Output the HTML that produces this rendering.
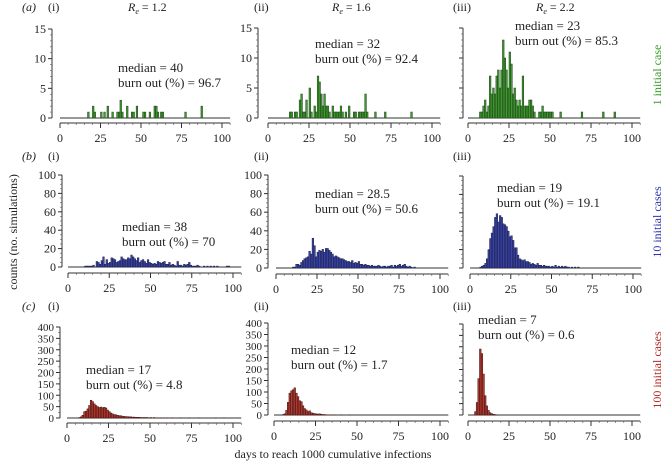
<!DOCTYPE html>
<html><head><meta charset="utf-8"><style>
body{margin:0;background:#fff;}
svg{display:block;font-family:"Liberation Serif","Times New Roman",serif;}
</style></head><body>
<svg id="chart" width="667" height="463" viewBox="0 0 667 463" font-family="Liberation Serif, serif">
<g font-size="12" fill="#222">
<text x="22" y="11" font-style="italic">(a)</text>
<text x="48" y="11">(i)</text>
<text x="128" y="11"><tspan font-style="italic">R</tspan><tspan font-size="8" dy="3" font-style="italic">e</tspan><tspan dy="-3"> = 1.2</tspan></text>
<text x="254" y="11">(ii)</text>
<text x="332" y="11"><tspan font-style="italic">R</tspan><tspan font-size="8" dy="3" font-style="italic">e</tspan><tspan dy="-3"> = 1.6</tspan></text>
<text x="453" y="11">(iii)</text>
<text x="536" y="11"><tspan font-style="italic">R</tspan><tspan font-size="8" dy="3" font-style="italic">e</tspan><tspan dy="-3"> = 2.2</tspan></text>
<text x="22" y="160" font-style="italic">(b)</text>
<text x="48" y="160">(i)</text>
<text x="254" y="160">(ii)</text>
<text x="453" y="160">(iii)</text>
<text x="22" y="310" font-style="italic">(c)</text>
<text x="48" y="310">(i)</text>
<text x="254" y="310">(ii)</text>
<text x="453" y="310">(iii)</text>
</g>
<text x="0" y="0" transform="translate(17,232) rotate(-90)" text-anchor="middle" font-size="12" fill="#222">counts (no. simulations)</text>
<text x="333" y="458" text-anchor="middle" font-size="12" fill="#222">days to reach 1000 cumulative infections</text>
<text transform="translate(661,75) rotate(-90)" text-anchor="middle" font-size="12" fill="#3a9a2a">1 initial case</text>
<text transform="translate(661,222) rotate(-90)" text-anchor="middle" font-size="12" fill="#2e32b0">10 initial cases</text>
<text transform="translate(661,370) rotate(-90)" text-anchor="middle" font-size="12" fill="#b02a22">100 initial cases</text>
</svg>
<script>
const aiStart = 17;
const aiCounts = [1,0,0,2,1,0,0,0,1,0,1,0,2,0,0,1,0,0,1,1,3,1,0,0,2,0,0,1,1,0,2,0,0,0,1,1,0,0,1,0,0,2,2,1,0,1,1,0,0,0,0,0,0,0,0,0,0,0,0,0,1,0,0,0,0,0,0,0,0,0,2];
const aiiStart = 13;
const aiiCounts = [1,1,0,1,1,0,3,4,1,1,3,0,5,1,0,2,1,7,6,4,2,4,2,2,1,0,2,1,1,1,1,2,1,0,1,0,2,0,0,1,1,0,1,1,1,1,4,1,0,0,0,0,1,0,0,0,0,0,1,0,0,0,0,0,0,0,0,0,0,0,0,0,0,0,1];
const aiiiStart = 7;
const aiiiCounts = [1,1,2,3,1,2,7,4,5,4,7,8,5,8,13,10,8,5,11,9,4,5,3,2,3,2,7,2,2,2,3,3,2,1,0,0,1,1,2,1,1,1,1,1,1,0,0,0,0,1,0,0,0,0,0,0,0,0,0,0,0,0,1,0,0,0,0,0,0,0,0,0,0,0,0,1,0,0,0,0,0,0,1];
const biStart = 10;
const biCounts = [1,1,1,1,1,2,0,6,5,3,7,11,3,8,4,5,10,9,8,5,6,7,11,9,8,8,10,9,13,11,9,7,10,5,7,8,6,4,8,5,4,3,4,3,6,5,4,5,6,3,3,5,2,3,2,1,6,2,2,1,3,2,3,5,2,1,1,1,2,1,0,0,1,0,1,0,1,0,1,0,1,0,0,0,0,0,1,1];
const biiStart = 10;
const biiCounts = [1,1,4,4,3,6,8,10,11,12,18,15,32,24,12,17,19,18,20,17,21,21,19,17,15,12,13,12,11,10,10,9,8,7,7,6,8,5,6,5,7,4,4,3,4,3,3,2,3,2,2,2,3,2,1,2,2,1,2,2,3,1,3,2,3,4,2,3,4,2,1,2,1,0,1];
const biiiStart = 6;
const biiiCounts = [1,2,3,5,10,20,32,38,45,55,59,50,57,55,48,47,45,40,34,35,30,22,22,14,10,9,8,9,7,7,6,4,5,4,3,5,3,3,2,3,2,2,2,1,2,1,3,1,2,1,2,1,2,1,1,0,1,0,1,0,1];
const ciStart = 7;
const ciCounts = [2,5,12,28,30,40,55,78,72,62,55,50,46,48,45,47,44,35,28,22,18,15,14,12,10,10,8,7,6,6,5,5,4,4,3,3,3,2,2,2,2,2,0,2,0,2,0,1,0,1,0,1,0,1,0,0,1,0,0,0,0,1,0,0,0,0,1,0,0,0,0,0,1,0,0,0,0,0,0,0,0,0,1,0,0,0,0,1];
const ciiStart = 5;
const ciiCounts = [2,5,20,55,95,105,110,118,95,80,62,58,40,28,22,15,18,10,8,6,5,4,5,3,2,2,1,1,0,1,0,1,0,0,0,1,0,0,0,0,1];
const ciiiStart = 4;
const ciiiCounts = [15,55,160,290,270,180,85,40,20,10,6,3,2,1,1];
const yTicksA = [0,5,10,15];
const yTicksB = [0,20,40,60,80,100];
const yTicksC = [0,50,100,150,200,250,300,350,400];
const xTicks = [0,25,50,75,100];
const medians = ["40","32","23","38","28.5","19","17","12","7"];
const burnouts = ["96.7","92.4","85.3","70","50.6","19.1","4.8","1.7","0.6"];

const NS = "http://www.w3.org/2000/svg";
const svg = document.getElementById("chart");
function mk(tag, attrs, parent){const e=document.createElementNS(NS,tag);for(const k in attrs)e.setAttribute(k,attrs[k]);(parent||svg).appendChild(e);return e;}

const fills = ["#3f9a30","#3a45a8","#b33a30"];
const strokes = ["#1c3d16","#1a1d45","#3d1210"];
const panels = [
 {s:aiStart,c:aiCounts,ya:52,y0:118,yt:29,ym:15,ticks:yTicksA,minor:1,x0:60,x1:222,xa:123,lab:true,row:0,mx:118,my:72},
 {s:aiiStart,c:aiiCounts,ya:258,y0:118,yt:28,ym:15,ticks:yTicksA,minor:1,x0:268,x1:432,xa:123,lab:true,row:0,mx:315,my:48},
 {s:aiiiStart,c:aiiiCounts,ya:463,y0:118,yt:28,ym:15,ticks:yTicksA,minor:1,x0:468,x1:632,xa:123,lab:false,row:0,mx:515,my:30},
 {s:biStart,c:biCounts,ya:62,y0:267,yt:175,ym:100,ticks:yTicksB,minor:5,x0:68,x1:233,xa:273,lab:true,row:1,mx:122,my:231},
 {s:biiStart,c:biiCounts,ya:268,y0:268,yt:175,ym:100,ticks:yTicksB,minor:5,x0:276,x1:440,xa:274,lab:true,row:1,mx:315,my:198},
 {s:biiiStart,c:biiiCounts,ya:463,y0:268,yt:176,ym:100,ticks:yTicksB,minor:5,x0:470,x1:633,xa:274,lab:false,row:1,mx:497,my:192},
 {s:ciStart,c:ciCounts,ya:60,y0:418,yt:327,ym:400,ticks:yTicksC,minor:25,x0:67,x1:233,xa:423,lab:true,row:2,mx:86,my:374},
 {s:ciiStart,c:ciiCounts,ya:268,y0:415,yt:323,ym:400,ticks:yTicksC,minor:25,x0:274,x1:440,xa:421,lab:true,row:2,mx:291,my:354},
 {s:ciiiStart,c:ciiiCounts,ya:463,y0:415,yt:324,ym:400,ticks:yTicksC,minor:25,x0:468,x1:632,xa:421,lab:false,row:2,mx:478,my:324}
];
panels.forEach((p,i)=>{
 const g=mk("g",{});
 
 
 const xs=d=>p.x0+(p.x1-p.x0)*d/100;
 const ys=v=>p.y0-(p.y0-p.yt)*v/p.ym;
 const bw=(p.x1-p.x0)/100;
 const bl=mk("line",{x1:p.x0,y1:p.y0,x2:xs(105),y2:p.y0,stroke:"#333","stroke-width":1},g);
 
 
 p.c.forEach((v,k)=>{
  if(v<=0) return;
  const d=p.s+k;
  const r=mk("rect",{x:xs(d),y:ys(v),width:bw,height:p.y0-ys(v),fill:fills[p.row],stroke:strokes[p.row],"stroke-width":0.5},g);
  
  
 });
 const ya=mk("line",{x1:p.ya,y1:p.yt,x2:p.ya,y2:p.y0,stroke:"#333","stroke-width":1},g);
 
 
 for(let v=0;v<=p.ym;v+=p.minor){mk("line",{x1:p.ya-2,y1:ys(v),x2:p.ya,y2:ys(v),stroke:"#555","stroke-width":0.6},g);}
 p.ticks.forEach(v=>{
  mk("line",{x1:p.ya-4,y1:ys(v),x2:p.ya,y2:ys(v),stroke:"#333","stroke-width":1},g);
  if(p.lab){
   const t=mk("text",{x:p.ya-6,y:ys(v)+4,"text-anchor":"end","font-size":p.row==2?11:12,fill:"#222"},g);
   t.textContent=v;
   
   
  }
 });
 const xa=mk("line",{x1:p.x0,y1:p.xa,x2:xs(105),y2:p.xa,stroke:"#333","stroke-width":1},g);
 
 
 for(let d=0;d<=105;d+=5){mk("line",{x1:xs(d),y1:p.xa,x2:xs(d),y2:p.xa+2,stroke:"#555","stroke-width":0.6},g);}
 xTicks.forEach(d=>{
  mk("line",{x1:xs(d),y1:p.xa,x2:xs(d),y2:p.xa+5,stroke:"#333","stroke-width":1},g);
  const t=mk("text",{x:xs(d),y:p.xa+19,"text-anchor":"middle","font-size":12,fill:"#222"},g);
  t.textContent=d;
  
  
 });
 const m=mk("text",{x:p.mx,y:p.my,"font-size":13,fill:"#222"},g);
 m.textContent="median = "+medians[i];
 
 
 const b=mk("text",{x:p.mx,y:p.my+15,"font-size":13,fill:"#222"},g);
 b.textContent="burn out (%) = "+burnouts[i];
 
 
});
</script>
</body></html>
